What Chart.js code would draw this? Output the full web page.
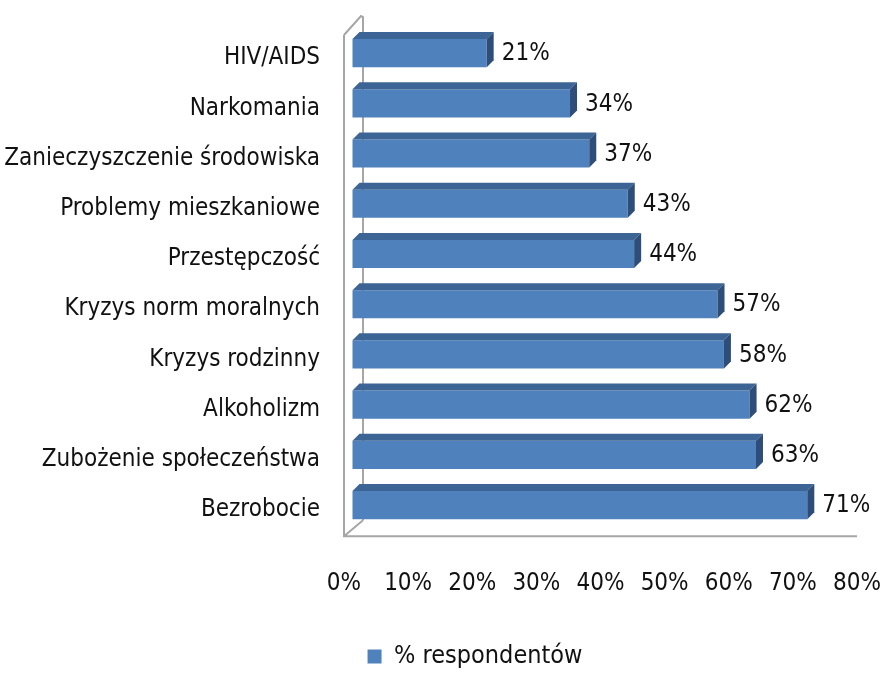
<!DOCTYPE html>
<html>
<head>
<meta charset="utf-8">
<script src="https://cdn.jsdelivr.net/npm/chart.js@4/dist/chart.umd.min.js"></script>
<style>
  html, body { margin: 0; padding: 0; background: #fff; }
  #wrap { width: 889px; height: 673px; }
</style>
</head>
<body>
<div id="wrap"><canvas id="problemChart"></canvas></div>
<script>
const categories = [
    'HIV/AIDS',
    'Narkomania',
    'Zanieczyszczenie środowiska',
    'Problemy mieszkaniowe',
    'Przestępczość',
    'Kryzys norm moralnych',
    'Kryzys rodzinny',
    'Alkoholizm',
    'Zubożenie społeczeństwa',
    'Bezrobocie'
];
const respondents = [21, 34, 37, 43, 44, 57, 58, 62, 63, 71];
const seriesLabel = '% respondentów';
const axisMin = 0;
const axisMax = 80;
const axisStep = 10;

const FONT = "'DejaVu Sans Condensed', 'DejaVu Sans', sans-serif";
const BLUE = '#4F81BD';

// --- fake 3D: walls behind the bars ---
const wallsPlugin = {
    id: 'walls',
    afterLayout(chart) {
        // legend sits a bit right of the canvas centre and lower, like the original
        chart.legend.left += 40;
        chart.legend.right += 40;
        chart.legend.top += 6;
        chart.legend.bottom += 6;
    },
    beforeDatasetsDraw(chart) {
        const a = chart.chartArea;
        const ctx = chart.ctx;
        ctx.save();
        ctx.strokeStyle = '#a6a6a6';
        ctx.lineWidth = 2;
        ctx.beginPath();
        ctx.moveTo(a.left - 8, a.top + 7);
        ctx.lineTo(a.left - 8, a.bottom + 6);
        ctx.lineTo(a.right - 8, a.bottom + 6);
        ctx.moveTo(a.left - 8, a.top + 7);
        ctx.lineTo(a.left + 9, a.top - 12);
        ctx.lineTo(a.left + 11, a.top - 11);
        ctx.lineTo(a.left + 11, a.bottom - 10);
        ctx.moveTo(a.left - 8, a.bottom + 6);
        ctx.lineTo(a.left + 11, a.bottom - 10);
        ctx.stroke();
        ctx.restore();
    }
};

// --- top and side faces of the bars, plus value labels ---
const bar3dPlugin = {
    id: 'bar3d',
    afterDatasetsDraw(chart) {
        const ctx = chart.ctx;
        const meta = chart.getDatasetMeta(0);
        const dx = 7, dy = -7;
        ctx.save();
        meta.data.forEach(function(bar, i) {
            const p = bar.getProps(['x', 'y', 'base', 'height'], true);
            const top = p.y - p.height / 2;
            const bottom = p.y + p.height / 2;
            ctx.fillStyle = '#3C6494';
            ctx.beginPath();
            ctx.moveTo(p.base, top);
            ctx.lineTo(p.base + dx, top + dy);
            ctx.lineTo(p.x + dx, top + dy);
            ctx.lineTo(p.x, top);
            ctx.closePath();
            ctx.fill();
            ctx.fillStyle = '#2E4D78';
            ctx.beginPath();
            ctx.moveTo(p.x, top);
            ctx.lineTo(p.x + dx, top + dy);
            ctx.lineTo(p.x + dx, bottom + dy);
            ctx.lineTo(p.x, bottom);
            ctx.closePath();
            ctx.fill();

            ctx.fillStyle = '#111';
            ctx.font = '24px ' + FONT;
            ctx.textAlign = 'left';
            ctx.textBaseline = 'middle';
            ctx.fillText(respondents[i] + '%', p.x + 15, p.y + 1);
        });
        ctx.restore();
    }
};

document.addEventListener('DOMContentLoaded', function() {
    const canvas = document.getElementById('problemChart');
    new Chart(canvas.getContext('2d'), {
        type: 'bar',
        data: {
            labels: categories,
            datasets: [{
                label: seriesLabel,
                data: respondents,
                backgroundColor: BLUE,
                borderWidth: 0,
                barPercentage: 0.56,
                categoryPercentage: 1
            }]
        },
        options: {
            indexAxis: 'y',
            responsive: true,
            maintainAspectRatio: false,
            animation: false,
            layout: { padding: { top: 28, right: 19, left: 0, bottom: 0 } },
            plugins: {
                legend: {
                    position: 'bottom',
                    labels: {
                        boxWidth: 14,
                        boxHeight: 14,
                        padding: 4,
                        color: '#111',
                        font: { family: FONT, size: 25 }
                    }
                },
                tooltip: { enabled: false }
            },
            scales: {
                x: {
                    min: axisMin,
                    max: axisMax,
                    // invisible tick marks give the gap under the floor
                    grid: { display: true, color: 'transparent', drawOnChartArea: false, tickLength: 39 },
                    border: { display: false },
                    ticks: {
                        stepSize: axisStep,
                        padding: 0,
                        labelOffset: -8,
                        color: '#111',
                        font: { family: FONT, size: 24 },
                        callback: function(value) { return value + '%'; }
                    },
                    afterFit: function(scale) { scale.height += 36; }
                },
                y: {
                    grid: { display: true, color: 'transparent', drawOnChartArea: false, tickLength: 32 },
                    border: { display: false },
                    ticks: {
                        padding: 0,
                        labelOffset: 5,
                        color: '#111',
                        font: { family: FONT, size: 24 }
                    },
                    afterFit: function(scale) { scale.width = 352; }
                }
            }
        },
        plugins: [wallsPlugin, bar3dPlugin]
    });
});
</script>
</body>
</html>
